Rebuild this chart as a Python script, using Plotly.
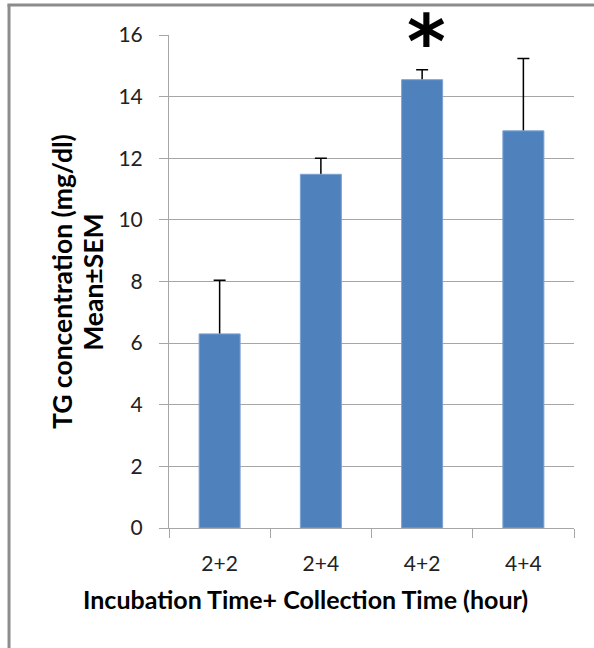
import plotly.graph_objects as go

categories = ["2+2", "2+4", "4+2", "4+4"]
means = [6.30, 11.48, 14.55, 12.89]
sem_plus = [1.74, 0.52, 0.32, 2.35]
y_ticks = [0, 2, 4, 6, 8, 10, 12, 14, 16]
star_category = "4+2"
x_title = "Incubation Time+ Collection Time (hour)"
y_title_lines = ["TG concentration (mg/dl)", "Mean±SEM"]

FONT = "Lato"
GRID = "#A6A6A6"
BAR = "#4F81BD"

fig = go.Figure()
# error bars (drawn first, covered at the bottom by the real bars)
fig.add_trace(go.Bar(
    x=categories, y=means,
    marker=dict(color="rgba(0,0,0,0)", line=dict(width=0)),
    error_y=dict(type="data", symmetric=False, array=sem_plus,
                 arrayminus=[0.2] * len(means),
                 color="black", thickness=1.5, width=6),
    hoverinfo="skip", showlegend=False,
))
fig.add_trace(go.Bar(
    x=categories, y=means,
    marker=dict(color=BAR, line=dict(color="#7EA3D2", width=1)),
    showlegend=False,
))

fig.update_layout(
    width=594, height=648,
    margin=dict(l=169, r=20, t=35, b=120),
    paper_bgcolor="white", plot_bgcolor="white",
    barmode="overlay", bargap=0.595,
    font=dict(family=FONT, color="#222222"),
)
fig.update_xaxes(
    type="category", tickson="boundaries",
    ticks="outside", ticklen=9, tickcolor=GRID, tickwidth=1,
    showline=True, linecolor=GRID, linewidth=1,
    showgrid=False,
    tickfont=dict(size=21, family=FONT, color="#222222"),
    ticklabelstandoff=17,
)
fig.update_yaxes(
    range=[0, 16], tickvals=y_ticks,
    ticks="outside", ticklen=9, tickcolor=GRID, tickwidth=1,
    showline=True, linecolor=GRID, linewidth=1,
    showgrid=True, gridcolor=GRID, gridwidth=1,
    zeroline=False,
    tickfont=dict(size=21, family=FONT, color="#222222"),
    ticklabelstandoff=12,
)

# axis titles
fig.add_annotation(x=0.336, y=-0.144, xref="paper", yref="paper",
                   text="<b>" + x_title + "</b>", showarrow=False,
                   xanchor="center", yanchor="middle",
                   font=dict(size=25, family=FONT, color="black"))
for xp, line in zip([-0.264, -0.188], y_title_lines):
    fig.add_annotation(x=xp, y=0.499, xref="paper", yref="paper",
                       text="<b>" + line + "</b>", showarrow=False,
                       textangle=-90, xanchor="center", yanchor="middle",
                       font=dict(size=26.5, family=FONT, color="black"))

# asterisk above significant bar
fig.add_annotation(x=star_category, y=1.0, xref="x", yref="paper",
                   text="<b>*</b>", showarrow=False,
                   yanchor="middle", xshift=4, yshift=-7,
                   font=dict(size=74, family="DejaVu Sans", color="black"))

# frame lines of the slide (left and top)
fig.add_shape(type="line", xref="paper", yref="paper",
              x0=-0.395, x1=-0.395, y0=1.061, y1=-0.25,
              line=dict(color="#8C8C8C", width=3))
fig.add_shape(type="line", xref="paper", yref="paper",
              x0=-0.399, x1=1.06, y0=1.061, y1=1.061,
              line=dict(color="#8C8C8C", width=3))

fig.write_html("out.html", config={"displayModeBar": False},
               post_script="document.body.style.margin='0';")
